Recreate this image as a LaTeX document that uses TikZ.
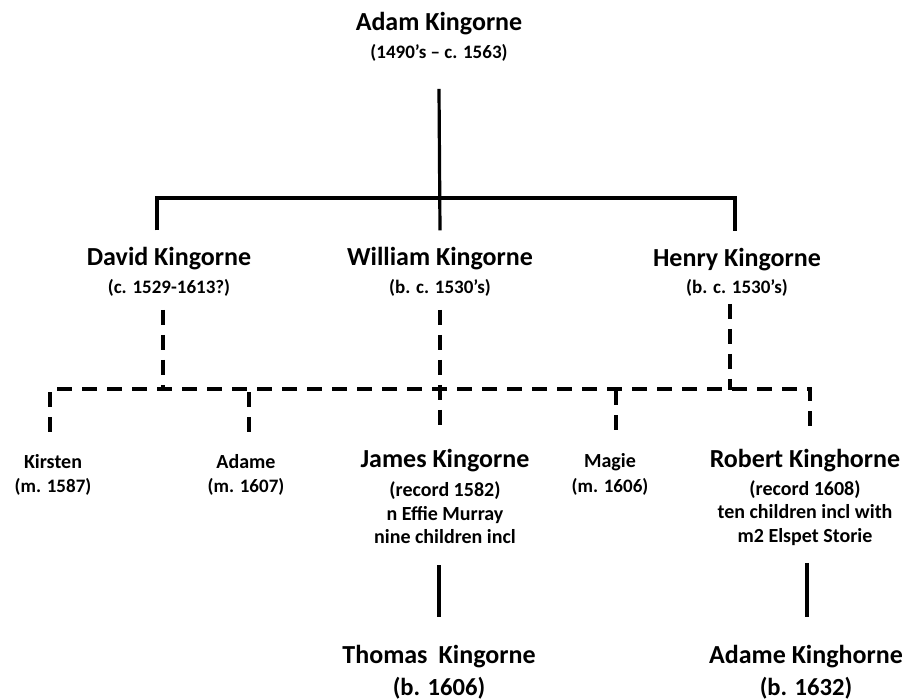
\documentclass[tikz,border=0pt]{standalone}
\usepackage{fontspec}
\setmainfont{Carlito}
\usepackage{tikz}
\usetikzlibrary{calc}

\begin{document}
\begin{tikzpicture}[
    x=0.5pt, y=-0.5pt,
    namebig/.style={font=\bfseries\fontsize{13}{15}\selectfont, inner sep=0pt},
    namelarge/.style={font=\bfseries\fontsize{13}{15}\selectfont, inner sep=0pt},
    datesmall/.style={font=\bfseries\fontsize{9.5}{11}\selectfont, inner sep=0pt},
    datelarge/.style={font=\bfseries\fontsize{12.3}{14}\selectfont, inner sep=0pt},
    sibname/.style={font=\bfseries\fontsize{10}{12}\selectfont, inner sep=0pt},
    sibdate/.style={font=\bfseries\fontsize{9.5}{11}\selectfont, inner sep=0pt},
    notes/.style={font=\bfseries\fontsize{10}{11.75}\selectfont, align=center, inner sep=0pt},
    kinline/.style={line width=1.6pt},
    kindash/.style={line width=2pt, dash pattern=on 7.5pt off 5pt}
]
\useasboundingbox (0,0) rectangle (907,700);

\node[namebig] (adam) at (439,24) {Adam Kingorne};
\node[datesmall] (adamd) at (439,53) {(1490’s – c. 1563)};

\node[namebig] (david) at (169,259) {David Kingorne};
\node[datesmall] (davidd) at (169,288) {(c. 1529-1613?)};
\node[namebig] (william) at (440,259) {William Kingorne};
\node[datesmall] (williamd) at (440,288) {(b. c. 1530’s)};
\node[namebig] (henry) at (737,260) {Henry Kingorne};
\node[datesmall] (henryd) at (737,288) {(b. c. 1530’s)};

\node[sibname] (kirsten) at (53,462) {Kirsten};
\node[sibdate] (kirstend) at (53,487) {(m. 1587)};
\node[sibname] (adame) at (246,462) {Adame};
\node[sibdate] (adamed) at (246,487) {(m. 1607)};
\node[namebig] (james) at (445,461) {James Kingorne};
\node[notes] (jamesd) at (445,513) {(record 1582)\\n Effie Murray\\nine children incl};
\node[sibname] (magie) at (610,462) {Magie};
\node[sibdate] (magied) at (610,487) {(m. 1606)};
\node[namebig] (robert) at (805,461) {Robert Kinghorne};
\node[notes] (robertd) at (805,513) {(record 1608)\\ten children incl with\\m2 Elspet Storie};

\node[namelarge] (thomas) at (439,657) {Thomas\hspace{0.2em} Kingorne};
\node[datelarge] (thomasd) at (439,688) {(b. 1606)};
\node[namelarge] (adamek) at (806,657) {Adame Kinghorne};
\node[datelarge] (adamekd) at (806,688) {(b. 1632)};

% sons of Adam
\coordinate (gen1 bar) at (439,198);
\draw[kinline] ([yshift=-13.5pt]adamd.south) -- ([yshift=8.5pt]william.north);
\draw[kinline] ([xshift=-6pt,yshift=8.5pt]david.north) |- (gen1 bar)
    -| ([xshift=-1pt,yshift=8.5pt]henry.north);

% next generation (uncertain)
\coordinate (gen2 bar) at (440,389);
\draw[kindash] ([xshift=-3pt,yshift=-6.5pt]davidd.south) -- ++(0,81);
\draw[kindash] ([xshift=-3.5pt,yshift=-3.5pt]henryd.south) -- ++(0,86);
\draw[kindash] ([yshift=-6.5pt]williamd.south) -- ([xshift=-2.5pt,yshift=10.5pt]james.north);
\draw[kindash] ([xshift=-1.5pt,yshift=11.5pt]kirsten.north) |- (gen2 bar)
    -| ([xshift=2.5pt,yshift=10.5pt]robert.north);
\draw[kindash] ([xshift=1.5pt,yshift=11.5pt]adame.north) -- ++(0,-43);
\draw[kindash] ([xshift=3pt,yshift=11.5pt]magie.north) -- ++(0,-43);

% grandchildren
\draw[kinline] ([xshift=-3pt,yshift=-10.5pt]jamesd.south) -- ([yshift=14pt]thomas.north);
\draw[kinline] ([xshift=1pt,yshift=-8.5pt]robertd.south) -- ([xshift=0.5pt,yshift=14pt]adamek.north);
\end{tikzpicture}
\end{document}
